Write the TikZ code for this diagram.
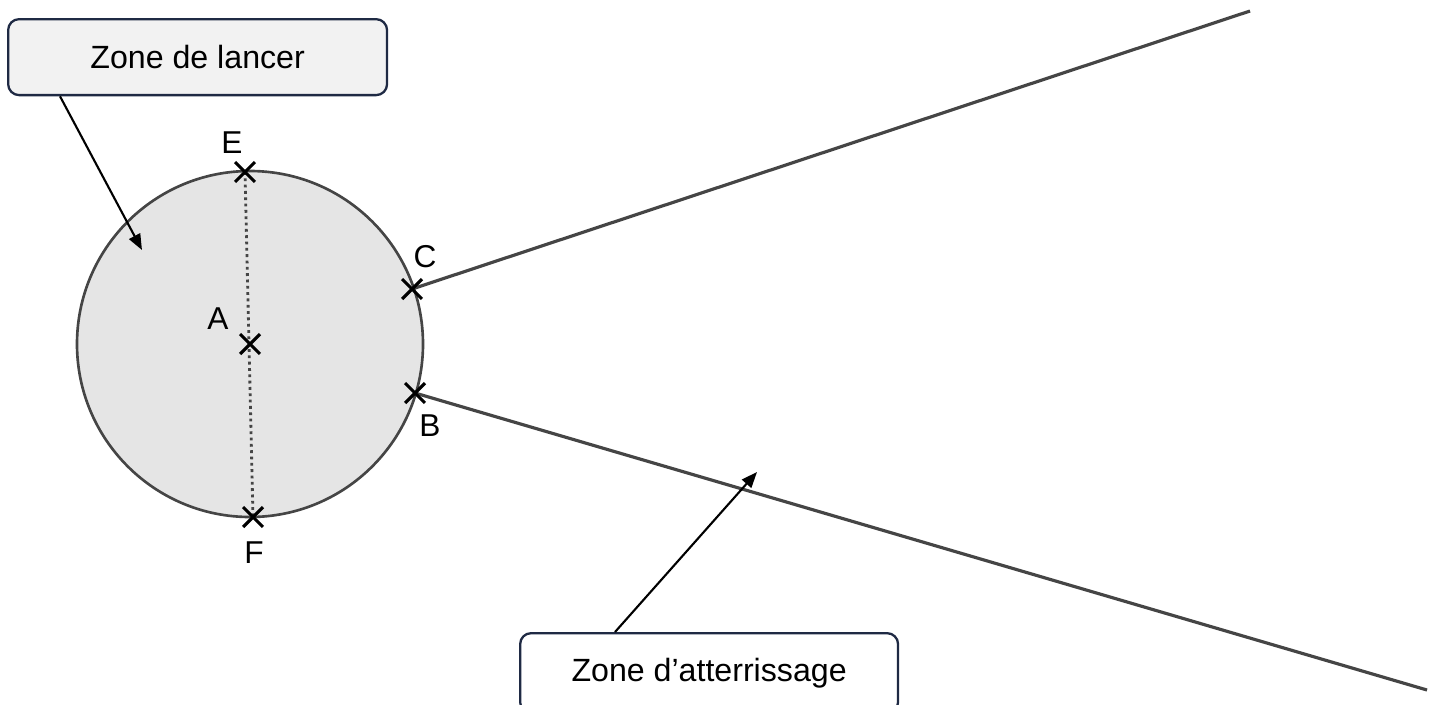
\documentclass[tikz,border=0pt]{standalone}
\usepackage{fontspec}
\setmainfont{Liberation Sans}
\usetikzlibrary{shapes.misc,arrows.meta}
\definecolor{navy}{HTML}{1F2A44}
\definecolor{boxfill}{HTML}{F2F2F2}
\definecolor{discfill}{HTML}{E5E5E5}
\definecolor{linegray}{HTML}{454545}
\tikzset{
  zonebox/.style={draw=navy, line width=1.3pt, rounded corners=0.22cm, inner sep=0pt,
    font=\fontsize{18.3}{22}\selectfont},
  xmark/.style={cross out, draw=black, line width=1.8pt, minimum size=9.5pt, inner sep=0pt},
  ptlabel/.style={font=\fontsize{18}{21}\selectfont, inner sep=0pt},
  fieldline/.style={draw=linegray, line width=1.8pt},
  callout/.style={draw=black, line width=1.2pt, -{Triangle[length=9pt,width=7pt]}}
}
\begin{document}
\begin{tikzpicture}[x=0.02cm,y=-0.02cm]
\useasboundingbox (0,0) rectangle (1435,704);
\clip (0,0) rectangle (1435,704);
% throwing circle
\fill[discfill] (250,344) circle[radius=173];
% sector lines
\coordinate (Cend) at (1250,11);
\coordinate (Bend) at (1427,690);
\coordinate (Cpt) at (412,289);
\coordinate (Bpt) at (415,393);
\draw[fieldline] (Cpt) -- (Cend);
\draw[fieldline] (Bpt) -- (Bend);
\draw[draw=linegray, line width=1.5pt] (250,344) circle[radius=173];
% diameter
\coordinate (Ept) at (245,172);
\coordinate (Fpt) at (253,517);
\draw[draw=linegray, line width=1.6pt, dotted] (Ept) -- (Fpt);
% marks
\node[xmark] (E) at (Ept) {};
\node[xmark] (A) at (250,344) {};
\node[xmark] (F) at (Fpt) {};
\node[xmark] (C) at (Cpt) {};
\node[xmark] (B) at (Bpt) {};
\node[ptlabel] (lE) at (232,143) {E};
\node[ptlabel] (lA) at (218,319) {A};
\node[ptlabel] (lF) at (254,553) {F};
\node[ptlabel] (lC) at (425,257) {C};
\node[ptlabel] (lB) at (430,426) {B};
% boxes
\node[zonebox, fill=boxfill, minimum width=7.58cm, minimum height=1.52cm, anchor=north west] (lancer) at (7,18) {Zone de lancer};
\node[zonebox, fill=white, minimum width=7.56cm, minimum height=1.6cm, anchor=north west] (land) at (519,632) {Zone d’atterrissage};
% callouts
\coordinate (t1) at (142,250);
\coordinate (t2) at (757,472);
\draw[callout] (lancer.south west) ++(53,0) -- (t1);
\draw[callout] (land.north west) ++(96,0) -- (t2);
\end{tikzpicture}
\end{document}
